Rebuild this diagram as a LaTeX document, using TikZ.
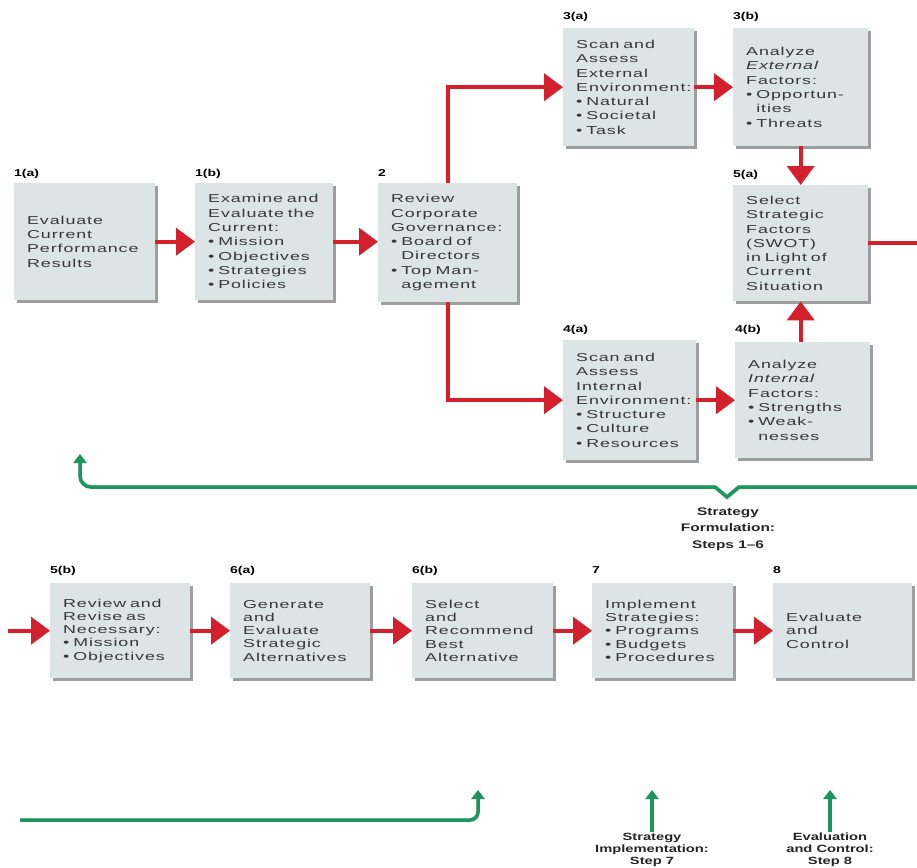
\documentclass[tikz,border=0pt]{standalone}
\usepackage{fontspec}
\setmainfont{Liberation Sans}
\newfontfamily\boxfont[FakeStretch=1.55,LetterSpace=8,WordSpace=1.6]{Liberation Sans}
\newfontfamily\labfont[FakeStretch=1.4]{Liberation Sans}
\usetikzlibrary{arrows.meta,shadows,calc}
\definecolor{boxfill}{RGB}{221,228,230}
\definecolor{boxtext}{RGB}{55,55,55}
\definecolor{arrred}{RGB}{212,32,45}
\definecolor{arrgreen}{RGB}{28,150,92}
\tikzset{
  stepbox/.style={fill=boxfill, draw=none, anchor=north west, inner xsep=13pt, inner ysep=3pt,
    align=left, text=boxtext, font=\boxfont\fontsize{11.5}{14.3}\selectfont,
    drop shadow={shadow xshift=3pt, shadow yshift=-3pt, fill=black, opacity=0.38}},
  lowbox/.style={stepbox, font=\boxfont\fontsize{11.5}{13.2}\selectfont},
  steplab/.style={anchor=base west, inner sep=0pt, text=black, font=\labfont\bfseries\fontsize{10}{12}\selectfont},
  grouplab/.style={align=center, inner sep=1pt, text=black!85, font=\labfont\bfseries\fontsize{11}{16.5}\selectfont},
  grouplabs/.style={align=center, inner sep=1pt, text=black!85, font=\labfont\bfseries\fontsize{10.5}{12}\selectfont},
  redarr/.style={draw=arrred, line width=4pt, -{Triangle[length=19pt,width=27pt]}},
  redline/.style={draw=arrred, line width=4pt},
  greenarr/.style={draw=arrgreen, line width=3.5pt, -{Triangle[length=9pt,width=13pt]}},
  gshadow/.style={draw=black, opacity=0.18, line width=4pt, -{Triangle[length=9pt,width=13pt]}},
}
\newcommand{\bul}{\textbullet\ }
\newcommand{\bulsp}{\phantom{\textbullet\ }}
\begin{document}
\begin{tikzpicture}[x=1pt,y=-1pt]
\useasboundingbox[fill=white] (0,0) rectangle (917,867);

% ---- top part boxes
\node[stepbox, minimum width=141pt, text width=115pt, minimum height=117pt] (n1a) at (14,183)
  {Evaluate\\Current\\Performance\\Results};
\node[stepbox, minimum width=138pt, text width=112pt, minimum height=117pt] (n1b) at (195,183)
  {Examine and\\Evaluate the\\Current:\\\bul Mission\\\bul Objectives\\\bul Strategies\\\bul Policies};
\node[stepbox, minimum width=139pt, text width=113pt, minimum height=119pt] (n2) at (378,183)
  {Review\\Corporate\\Governance:\\\bul Board of\\\bulsp Directors\\\bul Top Man-\\\bulsp agement};
\node[stepbox, minimum width=131pt, text width=105pt, minimum height=118pt] (n3a) at (563,28)
  {Scan and\\Assess\\External\\Environment:\\\bul Natural\\\bul Societal\\\bul Task};
\node[stepbox, minimum width=135pt, text width=109pt, minimum height=118pt] (n3b) at (733,28)
  {Analyze\\\textit{External}\\Factors:\\\bul Opportun-\\\bulsp ities\\\bul Threats};
\node[stepbox, minimum width=135pt, text width=109pt, minimum height=116pt] (n5a) at (733,185)
  {Select\\Strategic\\Factors\\(SWOT)\\in Light of\\Current\\Situation};
\node[stepbox, minimum width=133pt, text width=107pt, minimum height=120pt] (n4a) at (563,340)
  {Scan and\\Assess\\Internal\\Environment:\\\bul Structure\\\bul Culture\\\bul Resources};
\node[stepbox, minimum width=135pt, text width=109pt, minimum height=116pt] (n4b) at (735,342)
  {Analyze\\\textit{Internal}\\Factors:\\\bul Strengths\\\bul Weak-\\\bulsp nesses};

% ---- bottom row boxes
\node[lowbox, minimum width=140pt, text width=114pt, minimum height=95pt] (n5b) at (50,583)
  {Review and\\Revise as\\Necessary:\\\bul Mission\\\bul Objectives};
\node[lowbox, minimum width=140pt, text width=114pt, minimum height=95pt] (n6a) at (230,583)
  {Generate\\and\\Evaluate\\Strategic\\Alternatives};
\node[lowbox, minimum width=141pt, text width=115pt, minimum height=95pt] (n6b) at (412,583)
  {Select\\and\\Recommend\\Best\\Alternative};
\node[lowbox, minimum width=141pt, text width=115pt, minimum height=95pt] (n7) at (592,583)
  {Implement\\Strategies:\\\bul Programs\\\bul Budgets\\\bul Procedures};
\node[lowbox, minimum width=139pt, text width=113pt, minimum height=95pt] (n8) at (773,583)
  {Evaluate\\and\\Control};

% ---- step labels
\node[steplab] (l1a) at (14,176) {1(a)};
\node[steplab] (l1b) at (195,176) {1(b)};
\node[steplab] (l2)  at (378,176) {2};
\node[steplab] (l3a) at (563,20) {3(a)};
\node[steplab] (l3b) at (733,20) {3(b)};
\node[steplab] (l5a) at (733,177) {5(a)};
\node[steplab] (l4a) at (563,332) {4(a)};
\node[steplab] (l4b) at (735,332) {4(b)};
\node[steplab] (l5b) at (50,573) {5(b)};
\node[steplab] (l6a) at (230,573) {6(a)};
\node[steplab] (l6b) at (412,573) {6(b)};
\node[steplab] (l7)  at (592,573) {7};
\node[steplab] (l8)  at (773,573) {8};

% ---- red connectors
\draw[redarr] (n1a.east) -- (n1a.east -| n1b.west);
\draw[redarr] (n1b.east) -- (n1b.east -| n2.west);
\draw[redarr] (n2.north) |- (n3a.west);
\draw[redarr] (n2.south) |- (n4a.west);
\draw[redarr] (n3a.east) -- (n3a.east -| n3b.west);
\draw[redarr] (n3b.south -| n5a.north) -- (n5a.north);
\draw[redarr] (n4b.north -| n5a.south) -- (n5a.south);
\draw[redarr] (n4a.east) -- (n4a.east -| n4b.west);
\coordinate (outR) at (917,243);
\draw[redline] (n5a.east) -- (n5a.east -| outR);
\coordinate (inL) at (8,630);
\draw[redarr] (inL |- n5b.west) -- (n5b.west);
\draw[redarr] (n5b.east) -- (n5b.east -| n6a.west);
\draw[redarr] (n6a.east) -- (n6a.east -| n6b.west);
\draw[redarr] (n6b.east) -- (n6b.east -| n7.west);
\draw[redarr] (n7.east) -- (n7.east -| n8.west);

% ---- green feedback (formulation)
\coordinate (gR) at (917,487);
\coordinate (gN1) at (739,487);
\coordinate (gNt) at (727,497);
\coordinate (gN2) at (715,487);
\coordinate (gS) at (110,487);
\coordinate (gC) at (80,487);
\coordinate (gT) at (80,454);
\node[grouplab] (lform) at (728,529) {Strategy\\Formulation:\\Steps 1–6};

% ---- green feedback (bottom)
\coordinate (gB0) at (20,820);
\coordinate (gBc) at (478,820);
\coordinate (gBt) at (478,790);
\node[grouplabs] (limpl) at (652,850) {Strategy\\Implementation:\\Step 7};
\node[grouplabs] (leval) at (830,850) {Evaluation\\and Control:\\Step 8};
\coordinate (g7t) at (652,790);
\coordinate (g8t) at (830,790);

% shadows of the green lines
\begin{scope}[shift={(2,3)}]
\draw[gshadow] (gR) -- (gN1) -- (gNt) -- (gN2) -- (gS) [rounded corners=11pt] -- (gC) -- (gT);
\draw[gshadow, rounded corners=8pt] (gB0) -- (gBc) -- (gBt);
\draw[gshadow] (limpl.north) -- (g7t);
\draw[gshadow] (leval.north) -- (g8t);
\end{scope}

\draw[greenarr] (gR) -- (gN1) -- (gNt) -- (gN2) -- (gS) [rounded corners=11pt] -- (gC) -- (gT);
\draw[greenarr, rounded corners=8pt] (gB0) -- (gBc) -- (gBt);
\draw[greenarr] (limpl.north) -- (g7t);
\draw[greenarr] (leval.north) -- (g8t);
\end{tikzpicture}
\end{document}
